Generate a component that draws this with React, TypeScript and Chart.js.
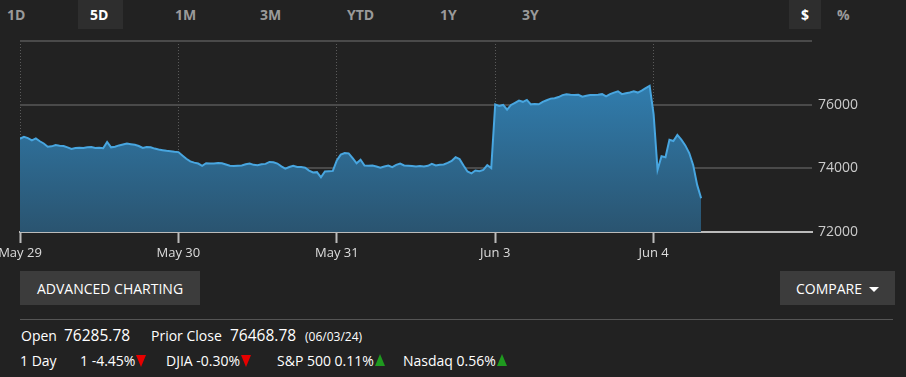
import React, { useEffect, useRef } from "react";
import { Chart, registerables } from "chart.js";

Chart.register(...registerables);

const dayLabels = ["May 29", "May 30", "May 31", "Jun 3", "Jun 4"];
const yTickValues = [72000, 74000, 76000, 78000];
const yHiddenTicks = [78000];
const stepsPerDay = 40;

const may29 = [
  74930, 74990, 74950, 74880, 74940, 74850, 74780, 74680, 74690, 74730,
  74710, 74700, 74660, 74610, 74640, 74650, 74640, 74660, 74670, 74640,
  74650, 74630, 74830, 74660, 74680, 74720, 74750, 74780, 74760, 74740,
  74700, 74640, 74670, 74660, 74620, 74590, 74570, 74550, 74540, 74520,
];
const may30 = [
  74510, 74400, 74300, 74220, 74180, 74150, 74080, 74160, 74150, 74150,
  74170, 74160, 74120, 74080, 74070, 74080, 74090, 74130, 74150, 74110,
  74100, 74130, 74140, 74200, 74190, 74150, 74060, 73990, 74040, 74080,
  74040, 74040, 74020, 73930, 73870, 73880, 73720, 73900, 73910, 73920,
];
const may31 = [
  74250, 74430, 74480, 74470, 74320, 74160, 74270, 74090, 74080, 74090,
  74060, 74020, 74060, 74090, 74040, 74110, 74150, 74090, 74080, 74070,
  74060, 74070, 74060, 74080, 74140, 74090, 74110, 74120, 74170, 74230,
  74350, 74290, 74090, 73900, 73840, 73930, 73910, 73950, 74100, 74010,
];
const jun3 = [
  76010, 75960, 75990, 75840, 75990, 76060, 76130, 76090, 76150, 76010,
  76020, 76010, 76090, 76140, 76190, 76200, 76240, 76300, 76330, 76310,
  76300, 76310, 76250, 76280, 76300, 76300, 76310, 76330, 76260, 76330,
  76380, 76420, 76330, 76360, 76380, 76420, 76380, 76440, 76520, 76590,
];
const jun4 = [
  75700, 73950, 74380, 74350, 74900, 74860, 75050, 74900, 74720, 74480,
  74100, 73480, 73060,
];
const sessions = [may29, may30, may31, jun3, jun4];

const tabs = ["1D", "5D", "1M", "3M", "YTD", "1Y", "3Y"];
const tabX = [7, 90, 175, 260, 347, 440, 522];
const activeTab = "5D";

const FONT = "'Segoe UI', 'Open Sans', 'Noto Sans', Roboto, sans-serif";

function Tri({ up }: { up: boolean }) {
  const color = up ? "#1f9a1f" : "#e60000";
  return (
    <span
      style={{
        display: "inline-block",
        width: 0,
        height: 0,
        marginLeft: 1,
        verticalAlign: up ? 0 : -1,
        borderLeft: "5px solid transparent",
        borderRight: "5px solid transparent",
        ...(up ? { borderBottom: `12px solid ${color}` } : { borderTop: `12px solid ${color}` }),
      }}
    />
  );
}

export default function App() {
  const canvasRef = useRef<HTMLCanvasElement | null>(null);

  useEffect(() => {
    document.body.style.margin = "0";
    document.body.style.background = "#222222";
    const canvas = canvasRef.current;
    if (!canvas) return;

    const points: { x: number; y: number }[] = [];
    sessions.forEach((vals, d) => {
      vals.forEach((v, i) => points.push({ x: d + i / stepsPerDay, y: v }));
    });

    const chart = new Chart(canvas, {
      type: "line",
      data: {
        datasets: [
          {
            data: points,
            borderColor: "#48a6e0",
            borderWidth: 2,
            pointRadius: 0,
            tension: 0,
            fill: "start",
            backgroundColor: (ctx: any) => {
              const { chart } = ctx;
              const area = chart.chartArea;
              if (!area) return "#2e6f9a";
              const g = chart.ctx.createLinearGradient(0, area.top, 0, area.bottom);
              g.addColorStop(0, "#3488c2");
              g.addColorStop(0.3, "#3079a8");
              g.addColorStop(1, "#2a5470");
              return g;
            },
          },
        ],
      },
      options: {
        animation: false,
        responsive: false,
        maintainAspectRatio: false,
        layout: { padding: { left: 20, top: 41, right: 0, bottom: 0 } },
        plugins: { legend: { display: false }, tooltip: { enabled: false } },
        scales: {
          x: {
            type: "linear",
            min: 0,
            max: dayLabels.length,
            afterFit: (s: any) => {
              s.height = 38;
              s.paddingLeft = 0;
              s.paddingRight = 0;
            },
            afterBuildTicks: (s: any) => {
              s.ticks = dayLabels.map((_, i) => ({ value: i })).concat([{ value: dayLabels.length }]);
            },
            ticks: {
              color: "#dddddd",
              font: { family: FONT, size: 13 },
              padding: 2,
              maxRotation: 0,
              autoSkip: false,
              callback: (v: any) => (dayLabels[v] !== undefined ? dayLabels[v] : ""),
            },
            grid: {
              color: (c: any) => (c.tick && c.tick.value === dayLabels.length ? "rgba(0,0,0,0)" : "#5a5a5a"),
              drawTicks: true,
              tickLength: 11,
              tickColor: (c: any) => (c.tick && c.tick.value === dayLabels.length ? "rgba(0,0,0,0)" : "#bbbbbb"),
              tickWidth: 2,
              tickBorderDash: [],
              lineWidth: 1,
            },
            border: { display: true, color: "#bbbbbb", width: 2, dash: [1, 2] },
          },
          y: {
            position: "right",
            min: 72000,
            max: 78000,
            afterFit: (s: any) => {
              s.width = 94;
            },
            afterBuildTicks: (s: any) => {
              s.ticks = yTickValues.map((v) => ({ value: v }));
            },
            ticks: {
              color: "#cccccc",
              font: { family: FONT, size: 14 },
              padding: 6,
              callback: (v: any) => (yHiddenTicks.includes(v) ? "" : String(v)),
            },
            grid: { color: "#4a4a4a", lineWidth: 2, drawTicks: false },
            border: { display: false },
          },
        },
      },
    });
    return () => chart.destroy();
  }, []);

  const tabStyle = (active: boolean): React.CSSProperties => ({
    position: "absolute",
    top: 5,
    fontFamily: FONT,
    fontWeight: 700,
    fontSize: 14,
    color: active ? "#ffffff" : "#9a9a9a",
  });

  const txt = (x: number, y: number, size: number, color = "#ffffff"): React.CSSProperties => ({
    position: "absolute",
    left: x,
    top: y,
    fontFamily: FONT,
    fontSize: size,
    color,
    whiteSpace: "nowrap",
    lineHeight: 1,
  });

  return (
    <div style={{ position: "relative", width: 906, height: 377, background: "#222222", overflow: "hidden" }}>
      <div style={{ position: "absolute", left: 78, top: 0, width: 45, height: 29, background: "#2e2e2e" }} />
      <div style={{ position: "absolute", left: 789, top: 0, width: 32, height: 29, background: "#2e2e2e" }} />
      {tabs.map((t, i) => (
        <span key={t} style={{ ...tabStyle(t === activeTab), left: tabX[i] }}>
          {t}
        </span>
      ))}
      <span style={{ ...tabStyle(true), left: 801 }}>$</span>
      <span style={{ ...tabStyle(false), left: 837 }}>%</span>

      <canvas ref={canvasRef} width={906} height={270} style={{ position: "absolute", left: 0, top: 0, width: 906, height: 270 }} />

      <div
        style={{
          position: "absolute", left: 20, top: 271, width: 180, height: 34, background: "#3c3c3c",
          display: "flex", alignItems: "center", justifyContent: "center",
          fontFamily: FONT, fontSize: 14, color: "#ffffff",
        }}
      >
        ADVANCED CHARTING
      </div>
      <div
        style={{
          position: "absolute", left: 780, top: 271, width: 115, height: 34, background: "#3c3c3c",
          display: "flex", alignItems: "center", justifyContent: "center",
          fontFamily: FONT, fontSize: 14, color: "#ffffff",
        }}
      >
        COMPARE
        <span
          style={{
            display: "inline-block", width: 0, height: 0, marginLeft: 7, marginTop: 2,
            borderLeft: "5px solid transparent", borderRight: "5px solid transparent",
            borderTop: "5px solid #ffffff",
          }}
        />
      </div>
      <div style={{ position: "absolute", left: 20, top: 319, width: 873, height: 1, background: "#555555" }} />

      <span style={txt(21, 329, 14)}>Open</span>
      <span style={txt(64, 328, 15.5)}>76285.78</span>
      <span style={txt(151, 329, 14)}>Prior Close</span>
      <span style={txt(230, 328, 15.5)}>76468.78</span>
      <span style={txt(305, 331, 12)}>(06/03/24)</span>

      <span style={txt(20, 354, 14)}>1 Day</span>
      <span style={txt(80, 354, 14)}>1 -4.45%<Tri up={false} /></span>
      <span style={txt(166, 354, 14)}>DJIA -0.30%<Tri up={false} /></span>
      <span style={txt(277, 354, 14)}>S&amp;P 500 0.11%<Tri up={true} /></span>
      <span style={txt(403, 354, 14)}>Nasdaq 0.56%<Tri up={true} /></span>
    </div>
  );
}
